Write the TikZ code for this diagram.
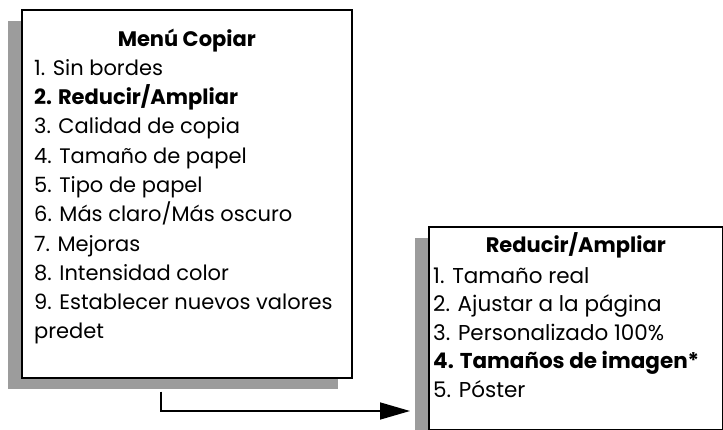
\documentclass[tikz,border=0pt]{standalone}
\usepackage{fontspec}
\setmainfont{Poppins}
\usetikzlibrary{arrows.meta,positioning,shadows}
\definecolor{shadowgray}{RGB}{156,156,156}

\begin{document}
\begin{tikzpicture}[x=1pt, y=-1pt,
    menubox/.style={
        draw,
        fill=white,
        line width=1.6pt,
        anchor=north west,
        inner sep=0pt,
        drop shadow={shadow xshift=-14pt, shadow yshift=-11pt,
            fill=shadowgray, opacity=1}
    },
    menutitle/.style={
        anchor=base,
        inner sep=0pt,
        font=\fontsize{21}{29}\selectfont\bfseries
    },
    menulist/.style={
        anchor=base west, % base = last line
        align=left,
        inner sep=0pt,
        font=\fontsize{21}{29.3}\selectfont
    },
    >={Triangle[length=30pt, width=17pt]}
]
\useasboundingbox (0,0) rectangle (723,430);
\node[menubox, minimum width=330pt, minimum height=368pt] (copiar) at (21,9) {};
\node[menubox, minimum width=294pt, minimum height=203pt] (reducir) at (428,226) {};
% menu texts
\node[below=38pt of copiar.north, menutitle] (copiartitle) {Menú Copiar};
\node[below right=330pt and 13pt of copiar.north west, menulist] (copiaritems)
    {1. Sin bordes\\
     \textbf{2. Reducir/Ampliar}\\
     3. Calidad de copia\\
     4. Tamaño de papel\\
     5. Tipo de papel\\
     6. Más claro/Más oscuro\\
     7. Mejoras\\
     8. Intensidad color\\
     9. Establecer nuevos valores\\
     predet};
\node[below=27pt of reducir.north, menutitle] (reducirtitle) {Reducir/Ampliar};
\node[below right=171pt and 5pt of reducir.north west, menulist,
    font=\fontsize{21.5}{28.5}\selectfont] (reduciritems)
    {1. Tamaño real\\
     2. Ajustar a la página\\
     3. Personalizado 100\%\\
     \textbf{4. Tamaños de imagen*}\\
     5. Póster};
% connector
\coordinate (arrowstart) at ([xshift=140pt, yshift=-13pt]copiar.south west);
\draw[->, line width=1.6pt, shorten >=18pt]
    (arrowstart) |- ([yshift=-185pt]reducir.north west);
\end{tikzpicture}
\end{document}
